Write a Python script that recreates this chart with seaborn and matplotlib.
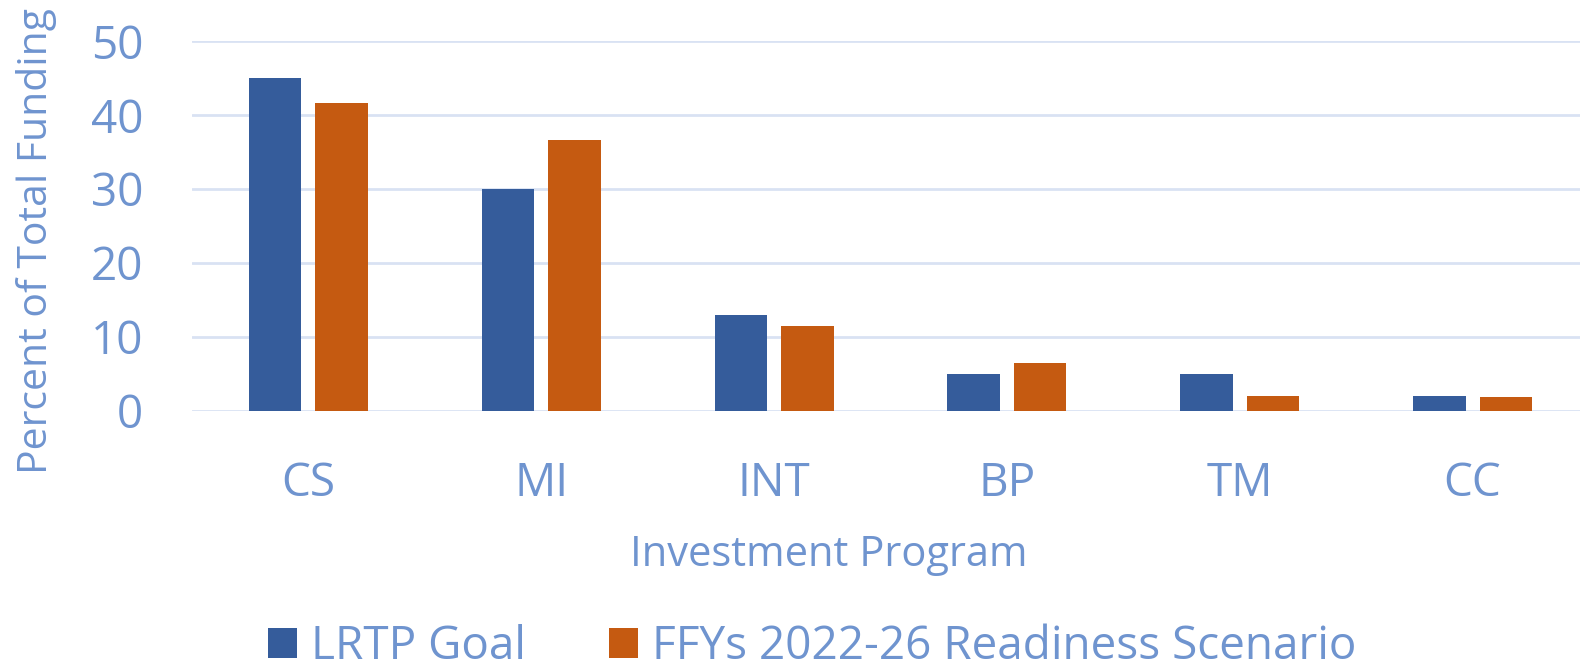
import matplotlib
matplotlib.use("Agg")
import matplotlib.pyplot as plt
import seaborn as sns
import pandas as pd

categories = ["CS", "MI", "INT", "BP", "TM", "CC"]
series_names = ["LRTP Goal", "FFYs 2022-26 Readiness Scenario"]
lrtp_goal = [45.0, 30.0, 13.0, 5.0, 5.0, 2.0]
readiness = [41.6, 36.6, 11.5, 6.5, 2.0, 1.8]
y_ticks = [0, 10, 20, 30, 40, 50]

df = pd.DataFrame({
    "Investment Program": categories * 2,
    "Percent": lrtp_goal + readiness,
    "Series": [series_names[0]] * len(categories) + [series_names[1]] * len(categories),
})

sns.set_theme(style="white")
plt.rcParams["font.family"] = ["Open Sans", "DejaVu Sans"]

TEXT = "#6F94CF"
GRID = "#D9E2F3"
palette = {series_names[0]: "#355C9B", series_names[1]: "#C55A11"}

fig = plt.figure(figsize=(15.8, 6.7), dpi=100)
ax = fig.add_axes([192 / 1580, 1 - 410.5 / 670, 1397 / 1580, (410.5 - 41.3) / 670])

sns.barplot(data=df, x="Investment Program", y="Percent", hue="Series",
            order=categories, hue_order=series_names, palette=palette,
            width=0.571, gap=0.212, linewidth=0, saturation=1, ax=ax)

ax.set_xlim(-0.5, len(categories) - 0.5)
ax.set_ylim(0, 50)
ax.set_yticks(y_ticks)
ax.yaxis.grid(True, color=GRID, linewidth=2)
ax.set_axisbelow(True)
for s in ax.spines.values():
    s.set_visible(False)

ax.tick_params(axis="y", length=0, pad=35, labelsize=33, labelcolor=TEXT)
ax.tick_params(axis="x", length=0, pad=36, labelsize=33, labelcolor=TEXT)

ax.set_xlabel("Investment Program", fontsize=30, color=TEXT)
ax.xaxis.set_label_coords(0.456, (410.5 - 555) / 369.2)
ax.xaxis.label.set_verticalalignment("center")
ax.set_ylabel("Percent of Total Funding", fontsize=29.5, color=TEXT)
ax.yaxis.set_label_coords(-0.0966, 0.459)

handles, labels = ax.get_legend_handles_labels()
if ax.legend_:
    ax.legend_.remove()
fig.legend(handles, labels, loc="center", bbox_to_anchor=(0.514, 1 - 647 / 670),
           ncol=2, frameon=False, fontsize=33, labelcolor=TEXT,
           handlelength=0.65, handleheight=0.65, handletextpad=0.3,
           columnspacing=1.8, borderpad=0.1)

fig.savefig("out.png", dpi=100)
